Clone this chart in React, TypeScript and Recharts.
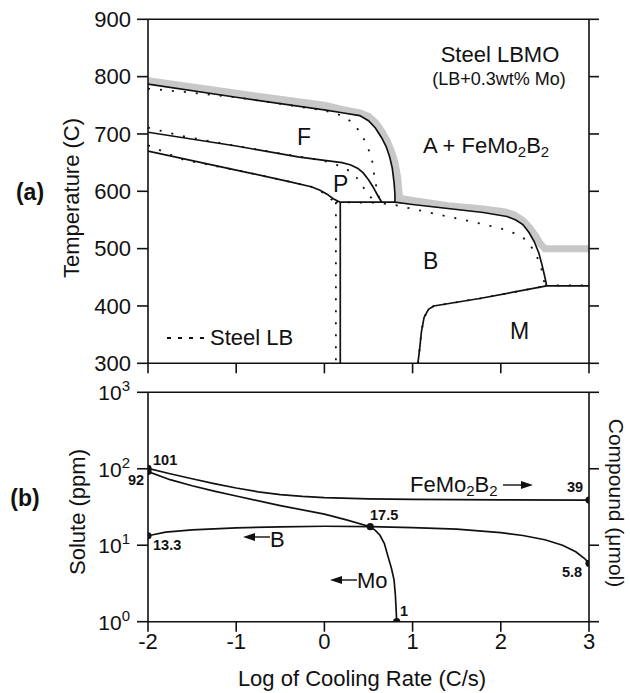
import React from 'react';
import { ComposedChart, Line, Scatter, XAxis, YAxis } from 'recharts';

type Pt = [number, number];

const xTicks = [-2, -1, 0, 1, 2, 3];
const tempTicks = [300, 400, 500, 600, 700, 800, 900];
const soluteTicks = [1, 10, 100, 1000];

// (a) Steel LBMO — equilibrium A + FeMo2B2 boundary (grey band)
const aeBand: Pt[] = [[-2, 793], [-1, 771], [0, 750], [0.2, 743], [0.4, 737], [0.5, 731], [0.58, 720], [0.65, 705], [0.71, 688], [0.76, 670], [0.8, 650], [0.83, 625], [0.845, 600], [0.85, 588], [1.0, 584], [1.4, 575], [1.8, 569], [2.05, 564], [2.15, 559], [2.25, 549], [2.33, 536], [2.4, 521], [2.45, 508], [2.5, 500], [3, 500]];
// (a) Steel LBMO — solid
const fStart: Pt[] = [[-2, 787], [-1, 764], [0, 742], [0.2, 737], [0.4, 732], [0.5, 723], [0.58, 710], [0.65, 693], [0.7, 678], [0.74, 660], [0.77, 640], [0.79, 615], [0.8, 595], [0.8, 581]];
const pStart: Pt[] = [[-2, 703], [-1, 679], [-0.3, 660], [0, 654], [0.2, 650], [0.3, 646], [0.38, 640], [0.44, 632], [0.5, 620], [0.55, 608], [0.6, 594], [0.65, 581]];
const pFinish: Pt[] = [[-2, 670], [-1, 637], [-0.4, 617], [-0.15, 608], [-0.05, 602], [0.03, 595], [0.1, 587], [0.18, 581]];
const bStart: Pt[] = [[0.18, 581], [0.8, 581], [1.0, 577], [1.4, 570], [1.8, 563], [2.07, 556], [2.17, 550], [2.25, 542], [2.32, 528], [2.38, 512], [2.43, 493], [2.47, 470], [2.5, 450], [2.52, 435]];
const bVertical: Pt[] = [[0.18, 581], [0.18, 300]];
const msLine: Pt[] = [[2.52, 435], [3, 435]];
const mStart: Pt[] = [[1.06, 300], [1.08, 325], [1.1, 355], [1.13, 380], [1.18, 394], [1.24, 400], [1.76, 413], [2.52, 435]];
// (a) Steel LB — dotted
const fStartLB: Pt[] = [[-2, 779], [-1.5, 772], [-1, 764], [0, 741], [0.2, 732], [0.3, 722], [0.38, 708], [0.44, 694], [0.5, 673], [0.54, 655], [0.57, 622], [0.6, 600], [0.63, 583]];
const pStartLB: Pt[] = [[-2, 711], [-1.6, 696], [-1, 679], [0, 653], [0.2, 643], [0.3, 634], [0.37, 623], [0.43, 610], [0.48, 598], [0.54, 587], [0.6, 581]];
const pFinishLB: Pt[] = [[-2, 680], [-1.6, 655], [-1, 637], [-0.4, 617], [-0.15, 608], [-0.05, 601], [0.03, 593], [0.1, 583]];
const bStartLB: Pt[] = [[0.13, 581], [0.6, 580], [0.8, 576], [1.1, 566], [1.4, 556], [1.76, 544], [2.03, 534], [2.15, 527], [2.26, 518], [2.33, 507], [2.4, 490], [2.46, 465], [2.5, 436]];
const bVerticalLB: Pt[] = [[0.13, 581], [0.13, 300]];
const msLineLB: Pt[] = [[2.5, 436], [3, 436]];

// (b) solute / compound
const femo2b2: Pt[] = [[-2, 101], [-1.75, 86], [-1.5, 74], [-1.25, 64], [-1, 56], [-0.75, 50], [-0.5, 46], [-0.25, 43.5], [0, 42], [0.5, 40.5], [1, 39.8], [2, 39.3], [3, 39]];
const moSolute: Pt[] = [[-2, 92], [-1.75, 72], [-1.5, 60], [-1.25, 51], [-1, 44], [-0.5, 33], [0, 25.5], [0.25, 21.5], [0.52, 17.5], [0.58, 15.5], [0.63, 13.5], [0.68, 10.5], [0.72, 7.2], [0.76, 5], [0.79, 3.5], [0.805, 2.2], [0.81, 1.7], [0.82, 1]];
const bSolute: Pt[] = [[-2, 13.3], [-1.8, 14.8], [-1.5, 15.9], [-1, 16.9], [-0.5, 17.4], [0, 17.7], [0.52, 17.5], [1, 17.0], [1.5, 16.2], [2, 14.6], [2.25, 13.4], [2.5, 11.8], [2.7, 10.0], [2.85, 8.2], [2.95, 6.7], [3, 5.8]];
const marked: Pt[] = [[-2, 101], [-2, 92], [-2, 13.3], [0.52, 17.5], [3, 39], [3, 5.8], [0.82, 1]];

const FONT = '"Liberation Sans", Arial, Helvetica, sans-serif';
const INK = '#111';

const toT = (p: Pt[]) => p.map(([x, t]) => ({ x, t }));
const toV = (p: Pt[]) => p.map(([x, v]) => ({ x, v }));

const axisStyle = { stroke: INK, strokeWidth: 1.6 };
const noLabel = () => '';

const PowTick = (props: any) => {
  const { x, y, payload } = props;
  const exp = Math.round(Math.log10(payload.value));
  return (
    <text x={x} y={y} dy={8} textAnchor="end" fontSize={21} fill={INK} fontFamily={FONT}>
      10
      <tspan fontSize={15} dy={-9}>{exp}</tspan>
    </text>
  );
};

const solid = (data: any[], key: string, id: string) => (
  <Line key={id} data={data} dataKey={key} type="linear" stroke={INK} strokeWidth={1.7} dot={false} activeDot={false} isAnimationActive={false} />
);
const dotted = (data: any[], key: string, id: string) => (
  <Line key={id} data={data} dataKey={key} type="linear" stroke={INK} strokeWidth={1.8} strokeDasharray="2 10" dot={false} activeDot={false} isAnimationActive={false} />
);

const Sub = ({ children }: { children: React.ReactNode }) => (
  <tspan fontSize={15} dy={4}>{children}</tspan>
);

export default function App() {
  return (
    <div style={{ position: 'absolute', left: 0, top: 0, width: 630, height: 693, background: '#fff', fontFamily: FONT }}>
      <div style={{ position: 'absolute', left: 0, top: 0 }}>
        <ComposedChart width={630} height={380} margin={{ top: 0, right: 0, bottom: 0, left: 0 }}>
          <XAxis xAxisId={0} dataKey="x" type="number" domain={[-2, 3]} allowDataOverflow ticks={xTicks} orientation="bottom" height={16.7} tickSize={10} tickFormatter={noLabel} axisLine={axisStyle} tickLine={axisStyle} />
          <XAxis xAxisId="top" type="number" domain={[-2, 3]} allowDataOverflow ticks={xTicks} orientation="top" height={19.3} tickSize={10} tickFormatter={noLabel} axisLine={axisStyle} tickLine={axisStyle} />
          <YAxis yAxisId={0} type="number" domain={[300, 900]} allowDataOverflow ticks={tempTicks} width={148} tickSize={11} tickMargin={6} tick={{ fontSize: 22, fill: INK }} axisLine={axisStyle} tickLine={axisStyle} />
          <YAxis yAxisId="right" orientation="right" type="number" domain={[300, 900]} allowDataOverflow ticks={tempTicks} width={41} tickSize={10} tickFormatter={noLabel} axisLine={axisStyle} tickLine={axisStyle} />
          <Line data={toT(aeBand)} dataKey="t" type="linear" stroke="#c8c8c8" strokeWidth={7} dot={false} activeDot={false} isAnimationActive={false} />
          {solid(toT(fStart), 't', 'fs')}
          {solid(toT(pStart), 't', 'ps')}
          {solid(toT(pFinish), 't', 'pf')}
          {solid(toT(bStart), 't', 'bs')}
          {solid(toT(bVertical), 't', 'bv')}
          {solid(toT(msLine), 't', 'ms')}
          {solid(toT(mStart), 't', 'm')}
          {dotted(toT(fStartLB), 't', 'fsl')}
          {dotted(toT(pStartLB), 't', 'psl')}
          {dotted(toT(pFinishLB), 't', 'pfl')}
          {dotted(toT(bStartLB), 't', 'bsl')}
          {dotted(toT(bVerticalLB), 't', 'bvl')}
          {dotted(toT(msLineLB), 't', 'msl')}
          {dotted(toT(mStart), 't', 'ml')}
        </ComposedChart>
      </div>
      <div style={{ position: 'absolute', left: 0, top: 360 }}>
        <ComposedChart width={630} height={333} margin={{ top: 0, right: 0, bottom: 0, left: 0 }}>
          <XAxis xAxisId={0} dataKey="x" type="number" domain={[-2, 3]} allowDataOverflow ticks={xTicks} orientation="bottom" height={71.3} tickSize={10} tickMargin={1.5} tick={{ fontSize: 22, fill: INK }} axisLine={axisStyle} tickLine={axisStyle} />
          <XAxis xAxisId="top" type="number" domain={[-2, 3]} allowDataOverflow ticks={xTicks} orientation="top" height={32.3} tickSize={10} tickFormatter={noLabel} axisLine={axisStyle} tickLine={axisStyle} />
          <YAxis yAxisId={0} dataKey="v" type="number" scale="log" domain={[1, 1000]} allowDataOverflow ticks={soluteTicks} width={148} tickSize={11} tickMargin={7} tick={<PowTick />} axisLine={axisStyle} tickLine={axisStyle} />
          <YAxis yAxisId="right" orientation="right" type="number" scale="log" domain={[1, 1000]} allowDataOverflow ticks={soluteTicks} width={41} tickSize={10} tickFormatter={noLabel} axisLine={axisStyle} tickLine={axisStyle} />
          {solid(toV(femo2b2), 'v', 'fe')}
          {solid(toV(moSolute), 'v', 'mo')}
          {solid(toV(bSolute), 'v', 'b')}
          <Scatter data={toV(marked)} dataKey="v" isAnimationActive={false} shape={(p: any) => <circle cx={p.cx} cy={p.cy} r={3.6} fill={INK} />} />
        </ComposedChart>
      </div>
      <svg width={630} height={693} style={{ position: 'absolute', left: 0, top: 0, overflow: 'visible', pointerEvents: 'none' }} fontFamily={FONT} fill={INK}>
        <text x={30} y={200} fontSize={23} fontWeight="bold" textAnchor="middle">(a)</text>
        <text x={25} y={506} fontSize={23} fontWeight="bold" textAnchor="middle">(b)</text>
        <text x={79} y={198} fontSize={22} textAnchor="middle" transform="rotate(-90 79 198)">Temperature (C)</text>
        <text x={85} y={512} fontSize={22} textAnchor="middle" transform="rotate(-90 85 512)">Solute (ppm)</text>
        <text x={609} y={503} fontSize={21} textAnchor="middle" transform="rotate(90 609 503)">Compound (μmol)</text>
        <text x={362} y={686} fontSize={22} textAnchor="middle">Log of Cooling Rate (C/s)</text>

        <text x={500} y={62} fontSize={22} textAnchor="middle">Steel LBMO</text>
        <text x={499} y={85} fontSize={18} textAnchor="middle">(LB+0.3wt% Mo)</text>
        <text x={423} y={153} fontSize={22}>A + FeMo<Sub>2</Sub><tspan dy={-4}>B</tspan><Sub>2</Sub></text>
        <text x={297} y={145} fontSize={23}>F</text>
        <text x={333} y={192} fontSize={23}>P</text>
        <text x={423} y={269} fontSize={23}>B</text>
        <text x={510} y={339} fontSize={23}>M</text>
        <line x1={167} y1={338} x2={205} y2={338} stroke={INK} strokeWidth={1.8} strokeDasharray="4 7" />
        <text x={210} y={345} fontSize={22}>Steel LB</text>

        <text x={410} y={492} fontSize={22}>FeMo<Sub>2</Sub><tspan dy={-4}>B</tspan><Sub>2</Sub></text>
        <line x1={503} y1={485} x2={524} y2={485} stroke={INK} strokeWidth={1.4} />
        <polygon points="533,485 521,481 521,489" />
        <polygon points="243,537 255,533 255,541" />
        <line x1={252} y1={537} x2={270} y2={537} stroke={INK} strokeWidth={1.4} />
        <text x={270} y={547} fontSize={22}>B</text>
        <polygon points="330,580 342,576 342,584" />
        <line x1={339} y1={580} x2={357} y2={580} stroke={INK} strokeWidth={1.4} />
        <text x={357} y={588} fontSize={22}>Mo</text>

        <g fontSize={14.5} fontWeight="bold">
          <text x={153} y={465}>101</text>
          <text x={128} y={485}>92</text>
          <text x={153} y={550}>13.3</text>
          <text x={370} y={520}>17.5</text>
          <text x={567} y={492}>39</text>
          <text x={562} y={577}>5.8</text>
          <text x={400} y={616}>1</text>
        </g>
      </svg>
    </div>
  );
}
